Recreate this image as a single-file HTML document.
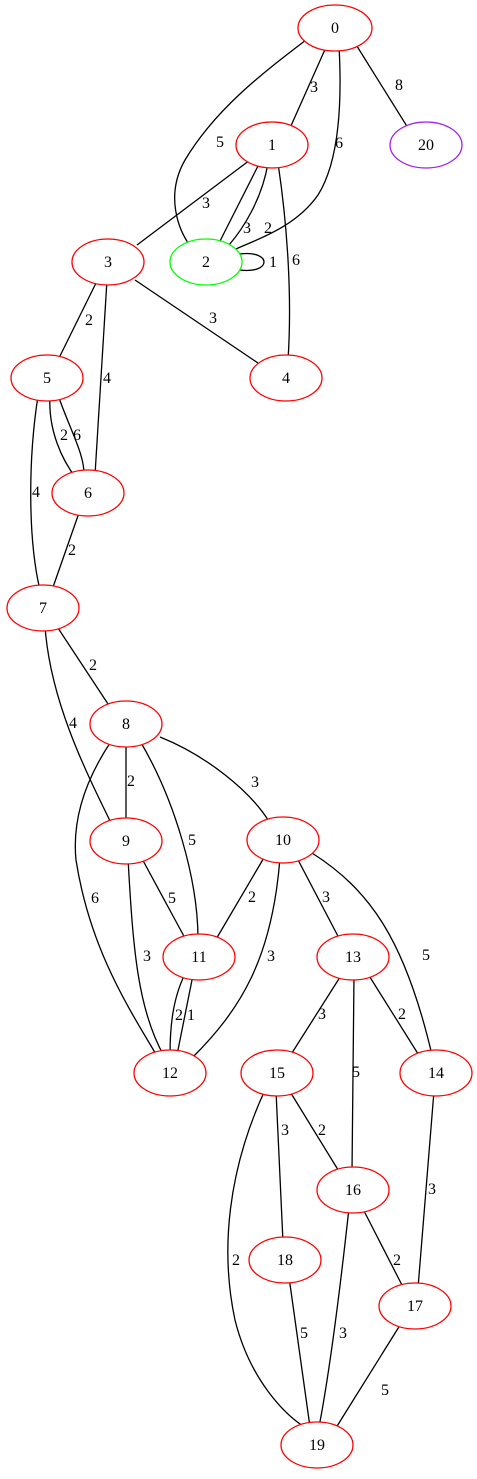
<!DOCTYPE html>
<html><head><meta charset="utf-8"><style>html,body{margin:0;padding:0;background:#fff}svg{display:block}</style></head>
<body>
<svg width="477" height="1479" viewBox="0 0 477 1479" xmlns="http://www.w3.org/2000/svg" font-family="Liberation Serif, serif" font-size="16">
<g fill="none" stroke="#000" stroke-width="1.3">
<path d="M327,45 L290,128"/>
<path d="M355,43 L408,128"/>
<path d="M306,40 C260,75 215,110 185,160 C165,195 178,230 191,247"/>
<path d="M339,46 C342,100 340,160 318,195 C295,228 255,240 236,249"/>
<path d="M250,160 L137,245"/>
<path d="M260,162 L218,245"/>
<path d="M268,163 C262,200 242,230 229,245"/>
<path d="M278,163 C288,230 292,300 288,360"/>
<path d="M240,254 C272,250 272,274 240,270"/>
<path d="M98,279 L58,360"/>
<path d="M135,280 L258,363"/>
<path d="M107,280 L95,475"/>
<path d="M50,396 C48,430 62,460 76,478"/>
<path d="M58,395 C70,430 85,455 84,476"/>
<path d="M38,396 C28,460 28,540 40,590"/>
<path d="M80,510 L52,590"/>
<path d="M56,625 L110,707"/>
<path d="M45,626 C50,700 85,770 113,827"/>
<path d="M126,742 L126,823"/>
<path d="M160,737 C205,755 250,790 270,823"/>
<path d="M140,741 C175,800 198,880 198,939"/>
<path d="M112,740 C85,780 72,820 76,860 C90,950 130,1010 157,1056"/>
<path d="M140,855 L186,940"/>
<path d="M128,858 C133,950 138,1010 164,1056"/>
<path d="M265,856 L215,941"/>
<path d="M280,858 C272,960 240,1010 192,1058"/>
<path d="M296,856 L340,940"/>
<path d="M312,853 C370,890 405,940 432,1055"/>
<path d="M185,974 C172,1000 170,1030 170,1055"/>
<path d="M193,975 C186,1010 180,1040 177,1055"/>
<path d="M342,974 L290,1056"/>
<path d="M354,975 L352,1172"/>
<path d="M368,974 L420,1057"/>
<path d="M289,1090 L340,1173"/>
<path d="M276,1091 L283,1242"/>
<path d="M265,1090 C228,1170 220,1250 235,1320 C250,1380 285,1415 306,1428"/>
<path d="M434,1091 L418,1288"/>
<path d="M362,1207 L404,1289"/>
<path d="M349,1208 C340,1290 330,1370 319,1427"/>
<path d="M289,1277 L310,1427"/>
<path d="M402,1322 L334,1431"/>
</g>
<g fill="#fff" stroke-width="1.3">
<ellipse cx="335" cy="28" rx="37" ry="23" stroke="red"/>
<ellipse cx="272" cy="145" rx="36" ry="23" stroke="red"/>
<ellipse cx="426" cy="145" rx="36" ry="23" stroke="#a020f0"/>
<ellipse cx="108" cy="262" rx="36" ry="23" stroke="red"/>
<ellipse cx="206" cy="262" rx="36" ry="23" stroke="#0f0"/>
<ellipse cx="286" cy="378" rx="36" ry="23" stroke="red"/>
<ellipse cx="47" cy="378" rx="36" ry="23" stroke="red"/>
<ellipse cx="88" cy="493" rx="36" ry="23" stroke="red"/>
<ellipse cx="43" cy="608" rx="36" ry="23" stroke="red"/>
<ellipse cx="126" cy="724" rx="36" ry="23" stroke="red"/>
<ellipse cx="126" cy="841" rx="36" ry="23" stroke="red"/>
<ellipse cx="283" cy="840" rx="36" ry="23" stroke="red"/>
<ellipse cx="199" cy="957" rx="36" ry="23" stroke="red"/>
<ellipse cx="353" cy="957" rx="36" ry="23" stroke="red"/>
<ellipse cx="170" cy="1073" rx="36" ry="23" stroke="red"/>
<ellipse cx="277" cy="1073" rx="36" ry="23" stroke="red"/>
<ellipse cx="436" cy="1073" rx="36" ry="23" stroke="red"/>
<ellipse cx="353" cy="1190" rx="36" ry="23" stroke="red"/>
<ellipse cx="285" cy="1260" rx="36" ry="23" stroke="red"/>
<ellipse cx="415" cy="1306" rx="36" ry="23" stroke="red"/>
<ellipse cx="317" cy="1445" rx="36" ry="23" stroke="red"/>
</g>
<g text-anchor="middle" fill="#000">
<text x="335" y="33">0</text><text x="272" y="150">1</text><text x="426" y="150">20</text>
<text x="108" y="267">3</text><text x="206" y="267">2</text><text x="286" y="383">4</text>
<text x="47" y="383">5</text><text x="88" y="498">6</text><text x="43" y="613">7</text>
<text x="126" y="729">8</text><text x="126" y="846">9</text><text x="283" y="845">10</text>
<text x="199" y="962">11</text><text x="353" y="962">13</text><text x="170" y="1078">12</text>
<text x="277" y="1078">15</text><text x="436" y="1078">14</text><text x="353" y="1195">16</text>
<text x="285" y="1265">18</text><text x="415" y="1311">17</text><text x="317" y="1450">19</text>
</g>
<g text-anchor="middle" fill="#000">
<text x="314" y="92">3</text><text x="399" y="90">8</text><text x="220" y="147">5</text><text x="339" y="148">6</text>
<text x="206" y="208">3</text><text x="247" y="233">3</text><text x="268" y="233">2</text><text x="296" y="265">6</text>
<text x="273" y="267">1</text><text x="89" y="325">2</text><text x="213" y="323">3</text><text x="107" y="383">4</text>
<text x="64" y="440">2</text><text x="77" y="440">6</text><text x="36" y="497">4</text><text x="72" y="555">2</text>
<text x="93" y="670">2</text><text x="73" y="728">4</text><text x="131" y="786">2</text><text x="255" y="787">3</text>
<text x="192" y="845">5</text><text x="95" y="903">6</text><text x="172" y="903">5</text><text x="147" y="961">3</text>
<text x="252" y="902">2</text><text x="271" y="961">3</text><text x="326" y="902">3</text><text x="426" y="960">5</text>
<text x="179" y="1020">2</text><text x="191" y="1020">1</text><text x="322" y="1019">3</text><text x="356" y="1077">5</text>
<text x="402" y="1019">2</text><text x="322" y="1135">2</text><text x="285" y="1135">3</text><text x="236" y="1265">2</text>
<text x="432" y="1194">3</text><text x="397" y="1265">2</text><text x="343" y="1338">3</text><text x="304" y="1338">5</text>
<text x="385" y="1395">5</text>
</g>
</svg>
</body></html>
